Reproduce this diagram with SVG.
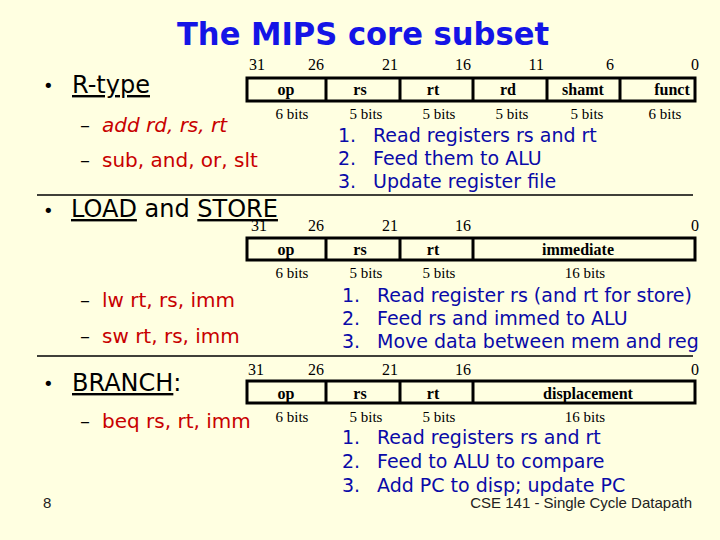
<svg xmlns="http://www.w3.org/2000/svg" width="720" height="540" viewBox="0 0 720 540">
<style>
.bg{fill:#FFFFE1}
.title{font-family:"DejaVu Sans",sans-serif;font-size:32px;font-weight:bold;fill:#1414E6}
.head{font-family:"DejaVu Sans",sans-serif;font-size:24px;fill:#000}
.bul{font-family:"DejaVu Sans",sans-serif;font-size:18px;fill:#000}
.cmd{font-family:"DejaVu Sans",sans-serif;font-size:20px;fill:#C80000}
.dash{font-family:"DejaVu Sans",sans-serif;font-size:20px;fill:#000}
.step{font-family:"DejaVu Sans",sans-serif;font-size:19px;fill:#0A0AA8}
.bitn{font-family:"Liberation Serif",serif;font-size:16px;fill:#000}
.fld{font-family:"Liberation Serif",serif;font-size:16px;font-weight:bold;fill:#000;text-anchor:middle}
.bits{font-family:"Liberation Serif",serif;font-size:15px;fill:#000;text-anchor:middle}
.box{fill:none;stroke:#000;stroke-width:3}
.sep{stroke:#000;stroke-width:1.5}
.foot{font-family:"Liberation Sans",sans-serif;font-size:15px;fill:#222}
.end{text-anchor:end}
</style>
<rect class="bg" x="0" y="0" width="720" height="540"/>
<text class="title" x="363" y="45" text-anchor="middle" textLength="372" lengthAdjust="spacingAndGlyphs">The MIPS core subset</text>

<g id="rtype">
  <text class="bul" x="43" y="92">•</text>
  <text class="head" x="72" y="93" text-decoration="underline">R-type</text>
  <text class="dash" x="80" y="132">–</text>
  <text class="cmd" x="102" y="132" font-style="italic">add rd, rs, rt</text>
  <text class="dash" x="80" y="167">–</text>
  <text class="cmd" x="102" y="167">sub, and, or, slt</text>
  <g id="rtype-format">
    <text class="bitn" x="249" y="70">31</text>
    <text class="bitn end" x="324" y="70">26</text>
    <text class="bitn end" x="398" y="70">21</text>
    <text class="bitn end" x="471" y="70">16</text>
    <text class="bitn end" x="544" y="70">11</text>
    <text class="bitn end" x="614" y="70">6</text>
    <text class="bitn end" x="699" y="70">0</text>
    <rect class="box" x="247" y="78" width="448" height="23"/>
    <path class="box" d="M326 78V101M400 78V101M473 78V101M547 78V101M620 78V101"/>
    <text class="fld" x="286" y="95">op</text>
    <text class="fld" x="360" y="95">rs</text>
    <text class="fld" x="433" y="95">rt</text>
    <text class="fld" x="508" y="95">rd</text>
    <text class="fld" x="583" y="95">shamt</text>
    <text class="fld" x="672" y="95">funct</text>
    <text class="bits" x="292" y="119">6 bits</text>
    <text class="bits" x="366" y="119">5 bits</text>
    <text class="bits" x="439" y="119">5 bits</text>
    <text class="bits" x="512" y="119">5 bits</text>
    <text class="bits" x="587" y="119">5 bits</text>
    <text class="bits" x="665" y="119">6 bits</text>
  </g>
  <g id="rtype-steps">
    <text class="step" x="338" y="142">1.</text><text class="step" x="373" y="142">Read registers rs and rt</text>
    <text class="step" x="338" y="165">2.</text><text class="step" x="373" y="165">Feed them to ALU</text>
    <text class="step" x="338" y="188">3.</text><text class="step" x="373" y="188">Update register file</text>
  </g>
</g>
<line class="sep" x1="37" y1="195" x2="693" y2="195"/>

<g id="loadstore">
  <text class="bul" x="43" y="217">•</text>
  <text class="head" x="71" y="217"><tspan text-decoration="underline">LOAD</tspan> and <tspan text-decoration="underline">STORE</tspan></text>
  <text class="dash" x="80" y="307">–</text>
  <text class="cmd" x="102" y="307">lw rt, rs, imm</text>
  <text class="dash" x="80" y="343">–</text>
  <text class="cmd" x="102" y="343">sw rt, rs, imm</text>
  <g id="ls-format">
    <text class="bitn" x="251" y="231">31</text>
    <text class="bitn end" x="324" y="231">26</text>
    <text class="bitn end" x="398" y="231">21</text>
    <text class="bitn end" x="471" y="231">16</text>
    <text class="bitn end" x="699" y="231">0</text>
    <rect class="box" x="247" y="238" width="448" height="22"/>
    <path class="box" d="M326 238V260M400 238V260M473 238V260"/>
    <text class="fld" x="286" y="255">op</text>
    <text class="fld" x="360" y="255">rs</text>
    <text class="fld" x="433" y="255">rt</text>
    <text class="fld" x="578" y="255">immediate</text>
    <text class="bits" x="292" y="278">6 bits</text>
    <text class="bits" x="366" y="278">5 bits</text>
    <text class="bits" x="439" y="278">5 bits</text>
    <text class="bits" x="585" y="278">16 bits</text>
  </g>
  <g id="ls-steps">
    <text class="step" x="342" y="302">1.</text><text class="step" x="377" y="302">Read register rs (and rt for store)</text>
    <text class="step" x="342" y="325">2.</text><text class="step" x="377" y="325">Feed rs and immed to ALU</text>
    <text class="step" x="342" y="348">3.</text><text class="step" x="377" y="348">Move data between mem and reg</text>
  </g>
</g>
<line class="sep" x1="37" y1="356" x2="693" y2="356"/>

<g id="branch">
  <text class="bul" x="43" y="390">•</text>
  <text class="head" x="72" y="391"><tspan text-decoration="underline">BRANCH</tspan>:</text>
  <text class="dash" x="80" y="428">–</text>
  <text class="cmd" x="102" y="428">beq rs, rt, imm</text>
  <g id="br-format">
    <text class="bitn" x="248" y="375">31</text>
    <text class="bitn end" x="324" y="375">26</text>
    <text class="bitn end" x="398" y="375">21</text>
    <text class="bitn end" x="471" y="375">16</text>
    <text class="bitn end" x="699" y="375">0</text>
    <rect class="box" x="247" y="381" width="448" height="22"/>
    <path class="box" d="M326 381V403M400 381V403M473 381V403"/>
    <text class="fld" x="286" y="399">op</text>
    <text class="fld" x="360" y="399">rs</text>
    <text class="fld" x="433" y="399">rt</text>
    <text class="fld" x="588" y="399">displacement</text>
    <text class="bits" x="292" y="422">6 bits</text>
    <text class="bits" x="366" y="422">5 bits</text>
    <text class="bits" x="439" y="422">5 bits</text>
    <text class="bits" x="585" y="422">16 bits</text>
  </g>
  <g id="br-steps">
    <text class="step" x="342" y="444">1.</text><text class="step" x="377" y="444">Read registers rs and rt</text>
    <text class="step" x="342" y="468">2.</text><text class="step" x="377" y="468">Feed to ALU to compare</text>
    <text class="step" x="342" y="492">3.</text><text class="step" x="377" y="492">Add PC to disp; update PC</text>
  </g>
</g>

<g id="footer">
  <text class="foot" x="43" y="508">8</text>
  <text class="foot" x="692" y="508" text-anchor="end">CSE 141 - Single Cycle Datapath</text>
</g>
</svg>
